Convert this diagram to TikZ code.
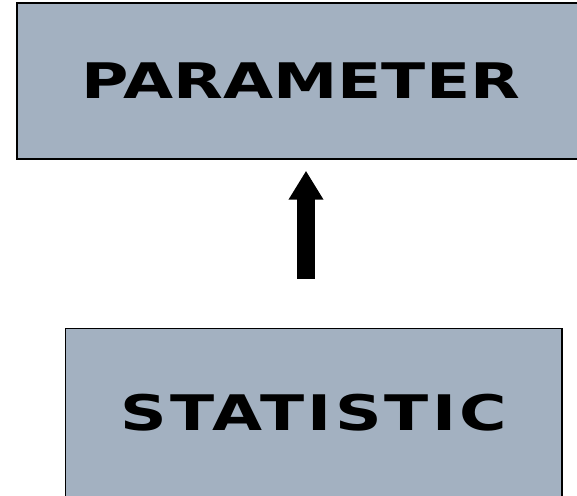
\documentclass[tikz,border=0pt]{standalone}
\usepackage{fontspec}
\setmainfont{DejaVu Sans}
\newfontfamily\widefont{DejaVu Sans}[FakeStretch=1.32]
\usetikzlibrary{positioning,arrows.meta}
\definecolor{boxgray}{RGB}{163,177,193}
\tikzset{
    termbox/.style={draw, line width=1.5pt, fill=boxgray, align=center, font=\fontsize{49}{50}\widefont\bfseries},
    bigarrow/.style={draw, line width=18pt, -{Triangle[width=33pt, length=29pt]}}
}

\begin{document}
\begin{tikzpicture}[x=1pt, y=1pt]
    \useasboundingbox (0,0) rectangle (577,495);
    \clip (0,0) rectangle (577,495);
    \node[termbox, minimum width=568pt, minimum height=156pt] (param) at (301,414) {PARAMETER};
    \node[termbox, minimum width=496.5pt, minimum height=169pt] (stat) at (313.75,82) {\addfontfeature{LetterSpace=6.5}STATISTIC};

    \coordinate (tail) at (306,216);
    \draw[bigarrow, shorten >=11pt] (tail) -- (tail |- param.south);
\end{tikzpicture}
\end{document}
